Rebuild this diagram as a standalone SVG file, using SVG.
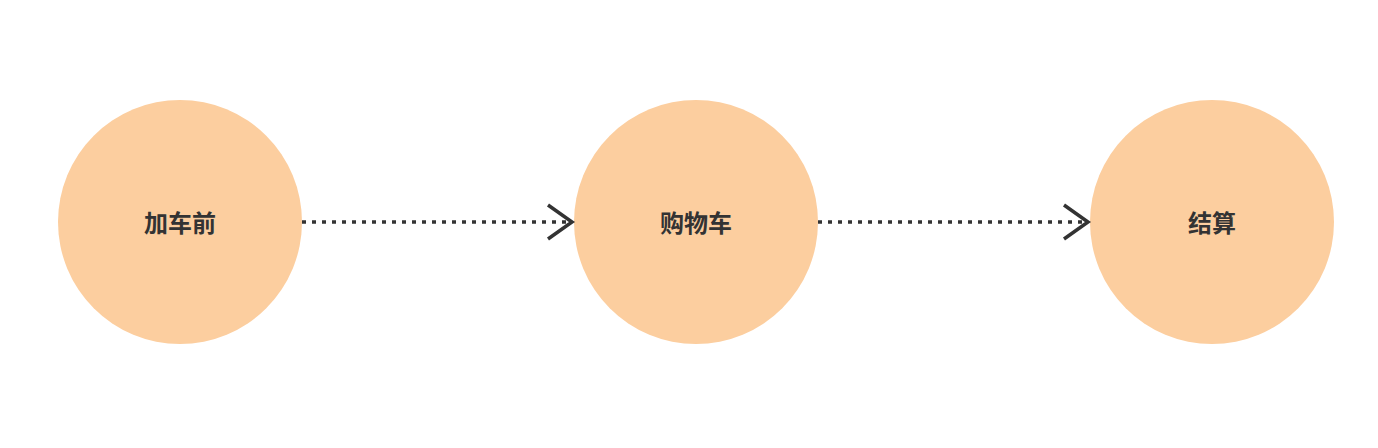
<svg xmlns="http://www.w3.org/2000/svg" width="1378" height="448" viewBox="0 0 1378 448">
  <style>
    .node circle { fill: #FCCE9F; }
    .node text { font-family: "Noto Sans CJK SC", "Noto Sans", sans-serif; font-size: 24px; font-weight: bold; fill: #333333; text-anchor: middle; dominant-baseline: central; }
    .edge { stroke: #333333; stroke-width: 3.5; fill: none; stroke-dasharray: 4 6; }
    .head { stroke: #333333; stroke-width: 3.5; fill: none; stroke-linecap: butt; }
  </style>
  <rect width="1378" height="448" fill="#ffffff"/>
  <g id="node-1" class="node">
    <circle cx="180" cy="222" r="122"/>
    <text x="180" y="221">加车前</text>
  </g>
  <g id="node-2" class="node">
    <circle cx="696" cy="222" r="122"/>
    <text x="696" y="221">购物车</text>
  </g>
  <g id="node-3" class="node">
    <circle cx="1212" cy="222" r="122"/>
    <text x="1212" y="221">结算</text>
  </g>
  <g id="connectors">
    <line class="edge" x1="302" y1="222" x2="572" y2="222"/>
    <polyline class="head" points="548,205 572,222 548,239"/>
    <line class="edge" x1="818" y1="222" x2="1088" y2="222"/>
    <polyline class="head" points="1064,205 1088,222 1064,239"/>
  </g>
</svg>
